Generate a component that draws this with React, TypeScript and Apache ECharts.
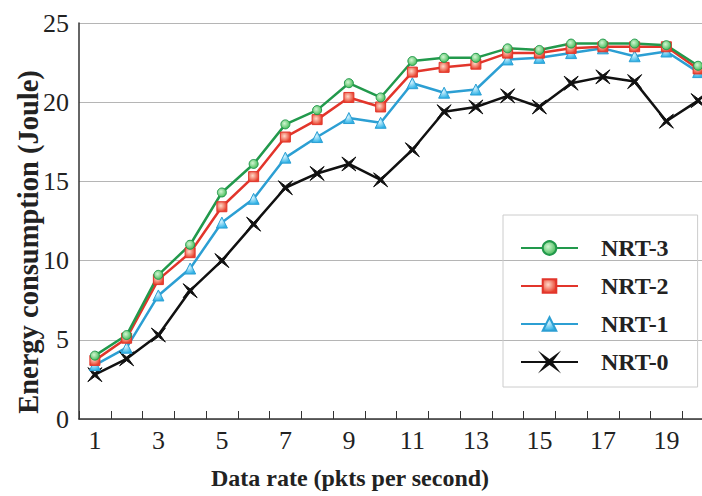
import React, { useEffect, useRef } from "react";
import * as echarts from "echarts";

const categories = ["1","2","3","4","5","6","7","8","9","10","11","12","13","14","15","16","17","18","19","20"];
const nrt3 = [4.0, 5.3, 9.1, 11.0, 14.3, 16.1, 18.6, 19.5, 21.2, 20.3, 22.6, 22.8, 22.8, 23.4, 23.3, 23.7, 23.7, 23.7, 23.6, 22.3];
const nrt2 = [3.7, 5.1, 8.8, 10.5, 13.4, 15.3, 17.8, 18.9, 20.3, 19.7, 21.9, 22.2, 22.4, 23.1, 23.1, 23.4, 23.5, 23.5, 23.5, 22.1];
const nrt1 = [3.4, 4.5, 7.8, 9.5, 12.4, 13.9, 16.5, 17.8, 19.0, 18.7, 21.2, 20.6, 20.8, 22.7, 22.8, 23.1, 23.4, 22.9, 23.2, 21.9];
const nrt0 = [2.8, 3.8, 5.3, 8.1, 10.0, 12.3, 14.6, 15.5, 16.1, 15.1, 17.0, 19.4, 19.7, 20.4, 19.7, 21.2, 21.6, 21.3, 18.8, 20.1];
const seriesNames = ["NRT-3", "NRT-2", "NRT-1", "NRT-0"];
const xTitle = "Data rate (pkts per second)";
const yTitle = "Energy consumption (Joule)";

const FONT = "Liberation Serif";

export default function App() {
  const ref = useRef<HTMLDivElement>(null);
  useEffect(() => {
    document.body.style.margin = "0";
    const chart = echarts.init(ref.current!, null, { renderer: "svg" });
    const grad = (inner: string, outer: string) =>
      new echarts.graphic.RadialGradient(0.4, 0.4, 0.6, [
        { offset: 0, color: inner },
        { offset: 1, color: outer },
      ]);
    const mk = (name: string, data: number[], color: string, symbol: string, size: number, fill: any) => ({
      name,
      type: "line",
      data,
      symbol,
      symbolSize: size,
      color,
      lineStyle: { color, width: 2.5 },
      itemStyle: { color: fill, borderColor: color, borderWidth: 1 },
      emphasis: { disabled: true },
    });
    chart.setOption({
      animation: false,
      textStyle: { fontFamily: FONT },
      grid: { left: 79, top: 23, width: 635, height: 396 },
      graphic: [
        {
          type: "text",
          x: 350,
          y: 478,
          style: {
            text: xTitle,
            font: "bold 24px Liberation Serif",
            fill: "#222",
            textAlign: "center",
            textVerticalAlign: "middle",
          },
        },
        {
          type: "text",
          x: 28,
          y: 242,
          rotation: Math.PI / 2,
          style: {
            text: yTitle,
            font: "bold 28.5px Liberation Serif",
            fill: "#222",
            textAlign: "center",
            textVerticalAlign: "middle",
          },
        },
      ],
      legend: {
        data: seriesNames,
        orient: "vertical",
        left: 503,
        top: 215,
        padding: [21, 29, 13, 17],
        borderColor: "#cccccc",
        borderWidth: 1,
        itemWidth: 57,
        itemHeight: 17,
        itemGap: 14,
        textStyle: {
          fontFamily: FONT,
          fontSize: 24,
          fontWeight: "bold",
          color: "#222",
          lineHeight: 24,
          padding: [0, 0, 0, 18],
        },
      },
      xAxis: {
        type: "category",
        data: categories,
        boundaryGap: true,
        axisLine: { lineStyle: { color: "#333", width: 1.5 } },
        axisTick: { show: true, inside: true, length: 8, interval: 0, lineStyle: { color: "#333" } },
        axisLabel: { interval: 1, fontFamily: FONT, fontSize: 26, color: "#222", margin: 8 },
        splitLine: { show: false },
      },
      yAxis: {
        type: "value",
        min: 0,
        max: 25,
        interval: 5,
        axisLine: { show: true, lineStyle: { color: "#333", width: 1.5 } },
        axisTick: { show: false },
        axisLabel: { fontFamily: FONT, fontSize: 26, color: "#222", margin: 10 },
        splitLine: { lineStyle: { color: "#b5b5b5", width: 1.2 } },
      },
      series: [
        mk("NRT-0", nrt0, "#111111", "path://M0,0 L5,3.7 L10,0 L6.3,5 L10,10 L5,6.3 L0,10 L3.7,5 Z", 14, "#111111"),
        mk("NRT-1", nrt1, "#2c9fd3", "triangle", 11, grad("#d6f4ff", "#2fb2e6")),
        mk("NRT-2", nrt2, "#e2352b", "rect", 10, grad("#ffd9c8", "#e8432f")),
        mk("NRT-3", nrt3, "#22994c", "circle", 9, grad("#d2f5d2", "#4cbf5e")),
      ],
    });
    return () => chart.dispose();
  }, []);
  return (
    <div style={{ width: 702, height: 496, overflow: "hidden", position: "relative" }}>
      <div ref={ref} style={{ width: 730, height: 496 }} />
    </div>
  );
}
